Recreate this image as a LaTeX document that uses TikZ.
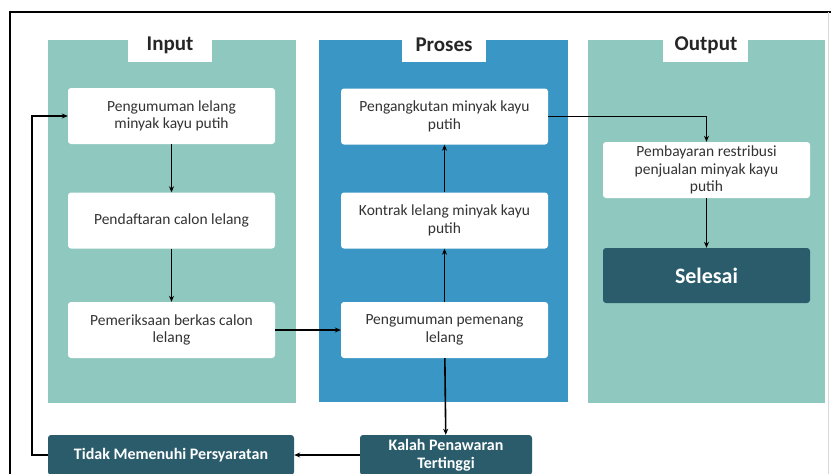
\documentclass[tikz,border=0pt]{standalone}
\usepackage{fontspec}
\setmainfont{Carlito}
\usetikzlibrary{arrows.meta}
\definecolor{tealbg}{RGB}{143,200,191}
\definecolor{bluebg}{RGB}{58,150,196}
\definecolor{darkbox}{RGB}{42,92,108}
\begin{document}
\begin{tikzpicture}[x=1pt,y=-1pt,
  stepbox/.style={draw=none,fill=white,rounded corners=3pt,minimum width=207pt,
    minimum height=56pt,align=center,font=\fontsize{15.5}{17.5}\selectfont,text=black!80,inner sep=2pt},
  darkstep/.style={draw=none,fill=darkbox,rounded corners=3pt,align=center,text=white,
    font=\bfseries\fontsize{16}{17.5}\selectfont,inner sep=1pt},
  title/.style={font=\bfseries\fontsize{21}{24}\selectfont,text=black!85},
  flow/.style={line width=1.6pt,-{Stealth[length=6pt,width=5pt]}}]
\useasboundingbox (0,0) rectangle (831,474);
% frame
\draw[line width=2pt] (10,480) -- (10,12) -- (831,12);
\draw[black!15,line width=0.6pt] (828.5,12) -- (828.5,480);
% column backgrounds with title tabs
\fill[tealbg] (48,40) rectangle (296,403);
\fill[bluebg] (319,40) rectangle (568,402);
\fill[tealbg] (588,40) rectangle (825,403);
\fill[white] (128,39) rectangle (212,62);
\fill[white] (402,39) rectangle (486,62);
\fill[white] (663,39) rectangle (748,62);
\node[title] (tin) at (170,45) {Input};
\node[title] (tpr) at (444,45) {Proses};
\node[title] (tout) at (706,45) {Output};
% input steps
\node[stepbox] (in1) at (171.5,116) {Pengumuman lelang\\minyak kayu putih};
\node[stepbox] (in2) at (171.5,220.5) {Pendaftaran calon lelang};
\node[stepbox] (in3) at (171.5,330) {Pemeriksaan berkas calon\\lelang};
% process steps
\node[stepbox] (pr1) at (444.5,116.5) {Pengangkutan minyak kayu\\putih};
\node[stepbox] (pr2) at (444.5,220.5) {Kontrak lelang minyak kayu\\putih};
\node[stepbox] (pr3) at (444.5,330) {Pengumuman pemenang\\lelang};
% output steps
\node[stepbox] (out1) at (706.5,170) {Pembayaran restribusi\\penjualan minyak kayu\\putih};
\node[darkstep,minimum width=207pt,minimum height=55pt,font=\bfseries\fontsize{22}{24}\selectfont] (done) at (706.5,275.5) {Selesai};
% bottom outcomes
\node[darkstep,minimum width=172pt,minimum height=40pt] (kalah) at (446,455) {Kalah Penawaran\\Tertinggi};
\node[darkstep,minimum width=246pt,minimum height=40pt] (tidak) at (171,455) {Tidak Memenuhi Persyaratan};
% connectors
\draw[flow] (in1) -- (in2);
\draw[flow] (in2) -- (in3);
\draw[flow] (in3) -- (pr3);
\draw[flow] (pr3) -- (pr2);
\draw[flow] (pr2) -- (pr1);
\draw[flow] (pr3) -- (kalah);
\draw[flow] (pr1.east) -| (out1.north);
\draw[flow] (out1) -- (done);
\draw[flow] (kalah) -- (tidak);
\coordinate (back) at (32,455);
\draw[flow] (tidak.west) -- (back) |- (in1.west);
\end{tikzpicture}
\end{document}
